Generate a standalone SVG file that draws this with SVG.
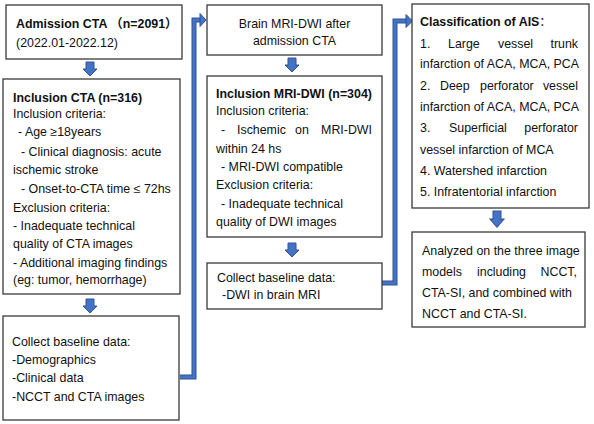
<svg xmlns="http://www.w3.org/2000/svg" xmlns:xlink="http://www.w3.org/1999/xlink" width="594" height="424" viewBox="0 0 594 424">
<style>
  .box { fill: #ffffff; stroke: #3a3a3a; stroke-width: 1.3; }
  text { font-family: "Liberation Sans", Arial, "Noto Sans CJK SC", sans-serif; font-size: 12.4px; fill: #111111; }
  .b { font-weight: bold; }
  .mid { text-anchor: middle; }
  .end { text-anchor: end; }
  .arr { fill: #4472C4; stroke: #2F5597; stroke-width: 1; }
  .lnOut { fill: none; stroke: #2F5597; stroke-width: 5; stroke-linejoin: miter; }
  .lnIn { fill: none; stroke: #4472C4; stroke-width: 3; stroke-linejoin: miter; }
</style>
<defs>
  <path id="down" d="M-4,0 H4 V7 H7 L0,14 L-7,7 H-4 Z"/>
</defs>
<rect width="594" height="424" fill="#ffffff"/>

<g id="connectors">
  <use xlink:href="#down" class="arr" transform="translate(90,62)"/>
  <use xlink:href="#down" class="arr" transform="translate(90,299)"/>
  <use xlink:href="#down" class="arr" transform="translate(292,58)"/>
  <use xlink:href="#down" class="arr" transform="translate(292,243)"/>
  <use xlink:href="#down" class="arr" transform="translate(497,211) scale(1,1.15)"/>
  <path class="lnOut" d="M180,377 H194 V20 H201"/>
  <path class="lnIn" d="M180,377 H194 V20 H202"/>
  <polygon class="arr" points="200,13.5 206,20 200,26.5"/>
  <path class="lnOut" d="M382,283 H395 V21 H407"/>
  <path class="lnIn" d="M382,283 H395 V21 H408"/>
  <polygon class="arr" points="406,14.5 412.5,21 406,27.5"/>
</g>

<g id="admission">
  <rect class="box" x="6" y="5" width="176" height="54"/>
  <text x="16" y="27.5"><tspan class="b">Admission CTA</tspan><tspan class="b"> （n=2091）</tspan></text>
  <text x="16" y="46.5">(2022.01-2022.12)</text>
</g>

<g id="inclusion-cta">
  <rect class="box" x="3" y="79" width="177" height="215"/>
  <text x="13" y="101.5" class="b">Inclusion CTA (n=316)</text>
  <text x="13" y="118">Inclusion criteria:</text>
  <text x="18" y="136">- Age  ≥18years</text>
  <text x="21" y="155.5">- Clinical diagnosis: acute</text>
  <text x="13" y="173.5">ischemic stroke</text>
  <text x="21" y="192.5">- Onset-to-CTA time ≤ 72hs</text>
  <text x="13" y="211.5">Exclusion criteria:</text>
  <text x="13" y="229.5">- Inadequate technical</text>
  <text x="13" y="247.5">quality of CTA images</text>
  <text x="13" y="266.5">- Additional imaging findings</text>
  <text x="13" y="283.5">(eg: tumor, hemorrhage)</text>
</g>

<g id="baseline-cta">
  <rect class="box" x="3" y="316" width="176" height="104"/>
  <text x="12" y="345.5">Collect baseline data:</text>
  <text x="12" y="363.5">-Demographics</text>
  <text x="12" y="381.5">-Clinical data</text>
  <text x="12" y="400.5">-NCCT and CTA images</text>
</g>

<g id="brain-mri">
  <rect class="box" x="207" y="5" width="175" height="50"/>
  <text x="294.5" y="27.5" class="mid">Brain MRI-DWI after</text>
  <text x="294.5" y="44.5" class="mid">admission CTA</text>
</g>

<g id="inclusion-mri">
  <rect class="box" x="207" y="76" width="175" height="161"/>
  <text x="216" y="97.5" class="b">Inclusion MRI-DWI (n=304)</text>
  <text x="216" y="114.5">Inclusion criteria:</text>
  <text y="133.5"><tspan x="221">-</tspan><tspan x="237">Ischemic</tspan><tspan x="295">on</tspan><tspan x="372" text-anchor="end">MRI-DWI</tspan></text>
  <text x="216" y="152.5">within 24 hs</text>
  <text x="221" y="170.5">- MRI-DWI compatible</text>
  <text x="216" y="188.5">Exclusion criteria:</text>
  <text x="221" y="207.5">- Inadequate technical</text>
  <text x="216" y="225.5">quality of DWI images</text>
</g>

<g id="baseline-mri">
  <rect class="box" x="207" y="263" width="175" height="46"/>
  <text x="217" y="281.5">Collect baseline data:</text>
  <text x="222" y="298.5">-DWI in brain MRI</text>
</g>

<g id="classification">
  <rect class="box" x="412" y="4" width="177" height="204"/>
  <text x="420" y="25.5"><tspan class="b">Classification of AIS</tspan>：</text>
  <text y="47.5"><tspan x="420">1.</tspan><tspan x="448">Large</tspan><tspan x="498">vessel</tspan><tspan x="578" text-anchor="end">trunk</tspan></text>
  <text x="420" y="67.5">infarction of ACA, MCA, PCA</text>
  <text y="89.5"><tspan x="420">2.</tspan><tspan x="440">Deep</tspan><tspan x="480">perforator</tspan><tspan x="578" text-anchor="end">vessel</tspan></text>
  <text x="420" y="110.5">infarction of ACA, MCA, PCA</text>
  <text y="131.5"><tspan x="420">3.</tspan><tspan x="449">Superficial</tspan><tspan x="578" text-anchor="end">perforator</tspan></text>
  <text x="420" y="153.5">vessel infarction of MCA</text>
  <text x="420" y="174.5">4. Watershed infarction</text>
  <text x="420" y="195.5">5. Infratentorial infarction</text>
</g>

<g id="analyzed">
  <rect class="box" x="412" y="232" width="173" height="95"/>
  <text x="422" y="254.5">Analyzed on the three image</text>
  <text y="275.5"><tspan x="422">models</tspan><tspan x="477">including</tspan><tspan x="577" text-anchor="end">NCCT,</tspan></text>
  <text x="422" y="296.5">CTA-SI, and combined with</text>
  <text x="422" y="317.5">NCCT and CTA-SI.</text>
</g>
</svg>
